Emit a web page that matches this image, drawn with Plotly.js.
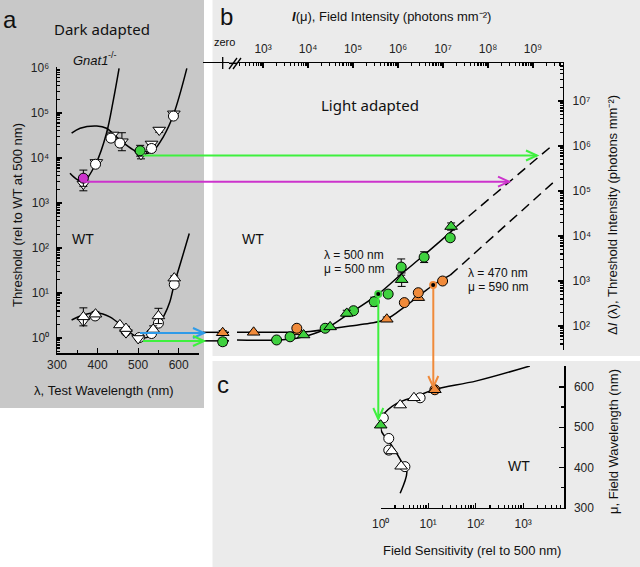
<!DOCTYPE html>
<html><head><meta charset="utf-8">
<script src="https://cdn.plot.ly/plotly-3.0.1.min.js"></script>
<style>body{margin:0;background:#fff}</style>
</head><body><div id="chart" style="width:640px;height:567px"></div>
<script>
// ---------- Panel a : dark adapted (log10 threshold rel. to WT at 500 nm) ----------
const gnatCircWl  = [395, 433, 455, 533, 587];
const gnatCircLog = [3.86, 4.44, 4.33, 4.21, 4.93];
const gnatTriWl   = [365, 397, 437, 460, 507, 533, 552, 588];
const gnatTriLog  = [3.42, 3.90, 4.51, 4.36, 4.08, 4.31, 4.62, 4.98];
const gnatTriErr  = [0.15, 0.05, 0, 0.2, 0.1, 0, 0.05, 0];
const gnatUvWl = [365],  gnatUvLog = [3.55],  gnatUvErr = [0.18];
const gnatMidWl = [505], gnatMidLog = [4.16], gnatMidErr = [0.12];
const gnatFitAWl  = [332, 348, 365, 396, 422, 439, 453];
const gnatFitALog = [3.66, 3.53, 3.47, 3.88, 4.55, 5.29, 5.99];
const gnatFitBWl  = [336, 357, 398, 422, 455, 488, 512, 537, 562, 587, 620];
const gnatFitBLog = [4.55, 4.66, 4.71, 4.66, 4.40, 4.18, 4.09, 4.16, 4.47, 4.96, 5.99];

const wtUpWl   = [365, 395, 455, 470, 537, 550, 589];
const wtUpLog  = [0.47, 0.53, 0.29, 0.21, 0.19, 0.49, 1.33];
const wtUpErr  = [0.2, 0.05, 0, 0.05, 0.08, 0.17, 0.05];
const wtDnWl   = [365, 470, 500];
const wtDnLog  = [0.38, 0.12, -0.01];
const wtCircWl = [394, 470, 503, 533, 550, 589];
const wtCircLog= [0.49, 0.15, 0.01, 0.10, 0.33, 1.19];
const wtFitWl  = [336, 365, 398, 430, 463, 488, 504, 529, 550, 565, 578, 589, 603, 626];
const wtFitLog = [0.40, 0.51, 0.56, 0.47, 0.25, 0.07, 0.0, 0.04, 0.30, 0.52, 0.80, 1.20, 1.62, 2.32];
const aTickVals = [300, 400, 500, 600];
const aLogTicks = [0, 1, 2, 3, 4, 5, 6];

// ---------- Panel b : light adapted (log10 field intensity, log10 threshold) ----------
const zeroGreenLog = [1.65], zeroGreenErr = [0.08];
const zeroOrangeLog = [1.85], zeroOrangeErr = [0.05];
const zeroBaseLog = [1.86, 1.67];
const gCircI = [3.30, 3.60, 4.38, 5.01, 5.47, 5.78, 6.07, 6.58, 7.16];
const gCircT = [1.69, 1.76, 1.95, 2.34, 2.54, 2.71, 3.31, 3.53, 3.96];
const gCircE = [0, 0, 0, 0, 0.1, 0, 0.18, 0.12, 0.07];
const gTriI  = [3.90, 4.49, 4.86, 6.08, 7.18];
const gTriT  = [1.80, 1.98, 2.28, 3.03, 4.21];
const gTriE  = [0, 0, 0.07, 0.15, 0.08];
const oCircI = [3.75, 6.14, 6.45, 6.99];
const oCircT = [1.95, 2.52, 2.74, 3.00];
const oTriI  = [2.79, 3.79, 5.75, 6.45];
const oTriT  = [1.86, 1.87, 2.15, 2.63];
const oTriE  = [0, 0, 0.05, 0];
const gFitI  = [2.42, 3.30, 3.75, 4.04, 4.38, 4.86, 5.56, 6.08, 6.56, 7.16, 7.30];
const gFitT  = [1.69, 1.69, 1.73, 1.80, 1.93, 2.24, 2.71, 3.16, 3.56, 4.08, 4.21];
const gDashI = [7.30, 9.45], gDashT = [4.21, 6.03];
const oFitI  = [2.42, 4.04, 4.41, 4.93, 5.37, 5.74, 6.15, 6.44, 6.78, 7.16];
const oFitT  = [1.86, 1.88, 1.93, 2.00, 2.06, 2.15, 2.43, 2.65, 2.91, 3.13];
const oDashI = [7.16, 9.45], oDashT = [3.13, 5.19];
const critI = [5.56, 6.78], critT = [2.71, 2.91];
const bTopTicks = [3, 4, 5, 6, 7, 8, 9];
const bRightTicks = [2, 3, 4, 5, 6, 7];

// ---------- Panel c : field spectral sensitivity ----------
const cCircS = [0.055, 0.17, 0.17, 0.51, 0.83];
const cCircW = [523, 472, 443, 402, 573];
const cTriS  = [0.23, 0.43, 0.41, 0.70];
const cTriW  = [441, 403, 555, 573];
const cGreenS = [0.0], cGreenW = [505];
const cOrangeS = [1.14], cOrangeW = [593];
const cFitS = [0.41, 0.55, 0.48, 0.20, 0.02, 0.0, 0.055, 0.34, 0.76, 1.14, 2.02, 3.14];
const cFitW = [336, 389, 406, 460, 489, 505, 530, 559, 577, 594, 615, 652];
const cBottomTicks = [0, 1, 2, 3];
const cRightTicks = [300, 400, 500, 600];

// ---------- helpers ----------
const W = 640, H = 567;
const px = v => v / W, py = v => 1 - v / H;
const p10 = a => a.map(v => Math.pow(10, v));
const errUp = (l, e) => l.map((v, i) => Math.pow(10, v + e[i]) - Math.pow(10, v));
const errDn = (l, e) => l.map((v, i) => Math.pow(10, v) - Math.pow(10, v - e[i]));
const SUPD = '⁰¹²³⁴⁵⁶⁷⁸⁹';
const sup = n => '10' + String(n).split('').map(c => c === '-' ? '⁻' : SUPD[+c]).join('');
const minorLog = (lo, hi) => { const r = []; for (let d = lo; d <= hi; d++) for (let k = 2; k <= 9; k++) r.push(k * Math.pow(10, d)); return r; };

const GREEN = '#3fd13f', ORANGE = '#f08a3a', MAG = '#cc33cc', BLUE = '#2f9be8', AGREEN = '#3ef03e';
const FONT = 'Liberation Sans, Arial, sans-serif';
const mk = (sym, fill, size) => ({symbol: sym, size: size || 10, color: fill, line: {color: '#000', width: 1}});
const eb = (l, e) => ({type: 'data', symmetric: false, array: errUp(l, e), arrayminus: errDn(l, e), color: '#000', thickness: 1, width: 4});

const traces = [];
const line = (x, y, xa, ya, extra) => traces.push(Object.assign({x, y, xaxis: xa, yaxis: ya, mode: 'lines', line: {color: '#000', width: 1.5, shape: 'spline', smoothing: 1}, hoverinfo: 'skip'}, extra || {}));
const pts = (x, y, xa, ya, marker, err) => traces.push({x, y, xaxis: xa, yaxis: ya, mode: 'markers', marker, error_y: err, cliponaxis: false, hoverinfo: 'skip'});

// panel a
line(gnatFitAWl, p10(gnatFitALog), 'x', 'y');
line(gnatFitBWl, p10(gnatFitBLog), 'x', 'y');
line(wtFitWl, p10(wtFitLog), 'x', 'y');
pts(gnatTriWl, p10(gnatTriLog), 'x', 'y', mk('triangle-down', '#fff', 11), eb(gnatTriLog, gnatTriErr));
pts(gnatCircWl, p10(gnatCircLog), 'x', 'y', mk('circle', '#fff', 10));
pts(gnatUvWl, p10(gnatUvLog), 'x', 'y', mk('circle', MAG, 10), eb(gnatUvLog, gnatUvErr));
pts(gnatMidWl, p10(gnatMidLog), 'x', 'y', mk('circle', GREEN, 10), eb(gnatMidLog, gnatMidErr));
pts(wtCircWl, p10(wtCircLog), 'x', 'y', mk('circle', '#fff', 10));
pts(wtDnWl, p10(wtDnLog), 'x', 'y', mk('triangle-down', '#fff', 11));
pts(wtUpWl, p10(wtUpLog), 'x', 'y', mk('triangle-up', '#fff', 11), eb(wtUpLog, wtUpErr));

// panel b zero region (xaxis3)
line([-20, 7], p10([zeroBaseLog[0], zeroBaseLog[0]]), 'x3', 'y2', {line: {color: '#000', width: 1.5}});
line([-20, 7], p10([zeroBaseLog[1], zeroBaseLog[1]]), 'x3', 'y2', {line: {color: '#000', width: 1.5}});
pts([0], p10(zeroOrangeLog), 'x3', 'y2', mk('triangle-up', ORANGE, 11), eb(zeroOrangeLog, zeroOrangeErr));
pts([0], p10(zeroGreenLog), 'x3', 'y2', mk('circle', GREEN, 10), eb(zeroGreenLog, zeroGreenErr));
// panel b curves
line(p10(gFitI), p10(gFitT), 'x2', 'y2');
line(p10(oFitI), p10(oFitT), 'x2', 'y2');
line(p10(gDashI), p10(gDashT), 'x2', 'y2', {line: {color: '#000', width: 1.5, dash: '10px,6px'}});
line(p10(oDashI), p10(oDashT), 'x2', 'y2', {line: {color: '#000', width: 1.5, dash: '10px,6px'}});
pts(p10(oTriI), p10(oTriT), 'x2', 'y2', mk('triangle-up', ORANGE, 11), eb(oTriT, oTriE));
pts(p10(oCircI), p10(oCircT), 'x2', 'y2', mk('circle', ORANGE, 10));
pts(p10(gCircI), p10(gCircT), 'x2', 'y2', mk('circle', GREEN, 10), eb(gCircT, gCircE));
pts(p10(gTriI), p10(gTriT), 'x2', 'y2', mk('triangle-up', GREEN, 11), eb(gTriT, gTriE));
pts(p10(critI), p10(critT), 'x2', 'y2', {symbol: 'circle', size: 8, color: [GREEN, ORANGE], line: {width: 0}});
pts(p10(critI), p10(critT), 'x2', 'y2', {symbol: 'circle', size: 4, color: '#000', line: {width: 0}});

// panel c
line(p10(cFitS), cFitW, 'x4', 'y4');
pts(p10(cCircS), cCircW, 'x4', 'y4', mk('circle', '#fff', 10));
pts(p10(cTriS), cTriW, 'x4', 'y4', mk('triangle-up', '#fff', 11));
pts(p10(cGreenS), cGreenW, 'x4', 'y4', mk('triangle-up', GREEN, 11));
pts(p10(cOrangeS), cOrangeW, 'x4', 'y4', mk('circle', ORANGE, 10));
pts(p10(cOrangeS), cOrangeW, 'x4', 'y4', mk('triangle-up', ORANGE, 11));

// ---------- axes ----------
const tickFont = {family: FONT, size: 12, color: '#222'};
const baseAx = {showline: true, linecolor: '#000', linewidth: 1.5, ticks: 'inside', ticklen: 5, tickwidth: 1.2, tickcolor: '#000', showgrid: false, zeroline: false, tickfont: tickFont, fixedrange: true};

const layout = {
  width: W, height: H, margin: {l: 0, r: 0, t: 0, b: 0},
  paper_bgcolor: '#fff', plot_bgcolor: 'rgba(0,0,0,0)', showlegend: false,
  font: {family: FONT, size: 12, color: '#111'},
  xaxis: Object.assign({}, baseAx, {domain: [px(57), px(199)], range: [300, 650], anchor: 'y',
    tickmode: 'array', tickvals: aTickVals, minor: {tickmode: 'linear', tick0: 300, dtick: 50, ticks: 'inside', ticklen: 3, tickcolor: '#000'}}),
  yaxis: Object.assign({}, baseAx, {domain: [py(353), py(67)], type: 'log', range: [-0.333, 6.02], anchor: 'x',
    tickmode: 'array', tickvals: p10(aLogTicks), ticktext: aLogTicks.map(sup), ticklabelstandoff: 4,
    minor: {tickmode: 'array', tickvals: minorLog(-1, 5), ticks: 'inside', ticklen: 3, tickcolor: '#000'}}),
  xaxis3: Object.assign({}, baseAx, {domain: [px(203), px(229)], range: [-19.7, 6.3], anchor: 'y2', side: 'top',
    ticks: '', showticklabels: false}),
  xaxis2: Object.assign({}, baseAx, {domain: [px(237), px(562.7)], type: 'log', range: [2.42, 9.66], anchor: 'y2', side: 'top',
    tickmode: 'array', tickvals: p10(bTopTicks), ticktext: bTopTicks.map(sup), ticklabelstandoff: 4,
    minor: {tickmode: 'array', tickvals: minorLog(2, 9), ticks: 'inside', ticklen: 3, tickcolor: '#000'}}),
  yaxis2: Object.assign({}, baseAx, {domain: [py(350), py(63)], type: 'log', range: [1.467, 7.844], anchor: 'x2', side: 'right',
    tickmode: 'array', tickvals: p10(bRightTicks), ticktext: bRightTicks.map(sup), ticklabelstandoff: 6,
    minor: {tickmode: 'array', tickvals: minorLog(1, 7), ticks: 'inside', ticklen: 3, tickcolor: '#000'}}),
  xaxis4: Object.assign({}, baseAx, {domain: [px(380.7), px(564)], type: 'log', range: [0, 3.86], anchor: 'y4',
    tickmode: 'array', tickvals: p10(cBottomTicks), ticktext: cBottomTicks.map(sup), ticklabelstandoff: 4,
    minor: {tickmode: 'array', tickvals: minorLog(0, 3), ticks: 'inside', ticklen: 3, tickcolor: '#000'}}),
  yaxis4: Object.assign({}, baseAx, {domain: [py(507.7), py(366)], range: [300, 652], anchor: 'x4', side: 'right',
    tickmode: 'array', tickvals: cRightTicks, ticklabelstandoff: 6,
    minor: {tickmode: 'linear', tick0: 300, dtick: 50, ticks: 'inside', ticklen: 3, tickcolor: '#000'}}),
  shapes: [
    {type: 'rect', xref: 'paper', yref: 'paper', x0: 0, x1: px(204), y0: py(408), y1: 1, fillcolor: '#c8c8c8', line: {width: 0}, layer: 'below'},
    {type: 'rect', xref: 'paper', yref: 'paper', x0: px(212.5), x1: 1, y0: py(356), y1: 1, fillcolor: '#ebebeb', line: {width: 0}, layer: 'below'},
    {type: 'rect', xref: 'paper', yref: 'paper', x0: px(212.5), x1: 1, y0: 0, y1: py(361), fillcolor: '#ebebeb', line: {width: 0}, layer: 'below'},
    // zero tick and axis break marks
    {type: 'line', xref: 'paper', yref: 'paper', x0: px(222.7), x1: px(222.7), y0: py(57), y1: py(69), line: {color: '#000', width: 1.3}},
    {type: 'line', xref: 'paper', yref: 'paper', x0: px(229), x1: px(237), y0: py(69), y1: py(58), line: {color: '#000', width: 1.3}},
    {type: 'line', xref: 'paper', yref: 'paper', x0: px(233), x1: px(241), y0: py(69), y1: py(58), line: {color: '#000', width: 1.3}},
    {type: 'line', xref: 'paper', yref: 'paper', x0: px(229), x1: px(237), y0: py(63.3), y1: py(63.3), line: {color: '#000', width: 1.5}},
  ],
  annotations: []
};

// connecting arrows drawn as shapes (shaft + open chevron head)
const S = layout.shapes;
const P = (x, y) => px(x).toFixed(5) + ',' + py(y).toFixed(5);
const arrow = (x1, y1, x2, y2, color) => {
  S.push({type: 'line', xref: 'paper', yref: 'paper', x0: px(x1), y0: py(y1), x1: px(x2), y1: py(y2), line: {color, width: 2}});
  const dx = x2 - x1, dy = y2 - y1, L = Math.hypot(dx, dy), ux = dx / L, uy = dy / L;
  const hl = 11, hw = 5;
  const bx = x2 - ux * hl, by = y2 - uy * hl;
  S.push({type: 'path', xref: 'paper', yref: 'paper', line: {color, width: 2},
    path: 'M' + P(bx - uy * hw, by + ux * hw) + ' L' + P(x2, y2) + ' L' + P(bx + uy * hw, by - ux * hw)});
};
arrow(143, 155.5, 537, 155.5, AGREEN);
arrow(84, 181.7, 509, 181.7, MAG);
arrow(140, 333, 204, 333, BLUE);
arrow(143, 341, 204, 341, AGREEN);
arrow(378.3, 296, 378.3, 419, AGREEN);
arrow(433.3, 287, 433.3, 387, ORANGE);

const A = layout.annotations;
const txt = (x, y, text, size, extra) => A.push(Object.assign({xref: 'paper', yref: 'paper', x: px(x), y: py(y), text, showarrow: false,
  font: {family: FONT, size: size, color: '#111'}, xanchor: 'center', yanchor: 'middle'}, extra || {}));

txt(10, 19, 'a', 24);
txt(102, 29, 'Dark adapted', 15, {font: {family: 'Noto Sans, Open Sans, sans-serif', size: 15, color: '#111'}});
txt(110, 60, '<i>Gnat1</i>', 13, {xanchor: 'right'});
txt(106, 55, '-/-', 9, {xanchor: 'left'});
txt(83, 239, 'WT', 14);
txt(17, 215, 'Threshold (rel to WT at 500 nm)', 13, {textangle: -90});
txt(104, 390, 'λ, Test Wavelength (nm)', 13);
txt(226, 17, 'b', 24);
txt(391, 17, '<b><i>I</i></b>(μ), Field Intensity (photons mm⁻²)', 13);
txt(224, 42, 'zero', 11);
txt(370, 105, 'Light adapted', 15, {font: {family: 'Noto Sans, Open Sans, sans-serif', size: 15, color: '#111'}});
txt(253, 239, 'WT', 14);
txt(322, 255, 'λ = 500 nm', 12, {xanchor: 'left'});
txt(322, 269, 'μ = 500 nm', 12, {xanchor: 'left'});
txt(466, 273, 'λ = 470 nm', 12, {xanchor: 'left'});
txt(466, 287, 'μ = 590 nm', 12, {xanchor: 'left'});
txt(612, 215, 'Δ<i>I</i> (λ), Threshold Intensity (photons mm⁻²)', 13, {textangle: -90});
txt(223, 384, 'c', 24);
txt(519, 466, 'WT', 14);
txt(472, 550, 'Field Sensitivity (rel to 500 nm)', 13);
txt(613, 442, 'μ, Field Wavelength (nm)', 13, {textangle: -90});

Plotly.newPlot('chart', traces, layout, {staticPlot: true, displayModeBar: false});
</script></body></html>
